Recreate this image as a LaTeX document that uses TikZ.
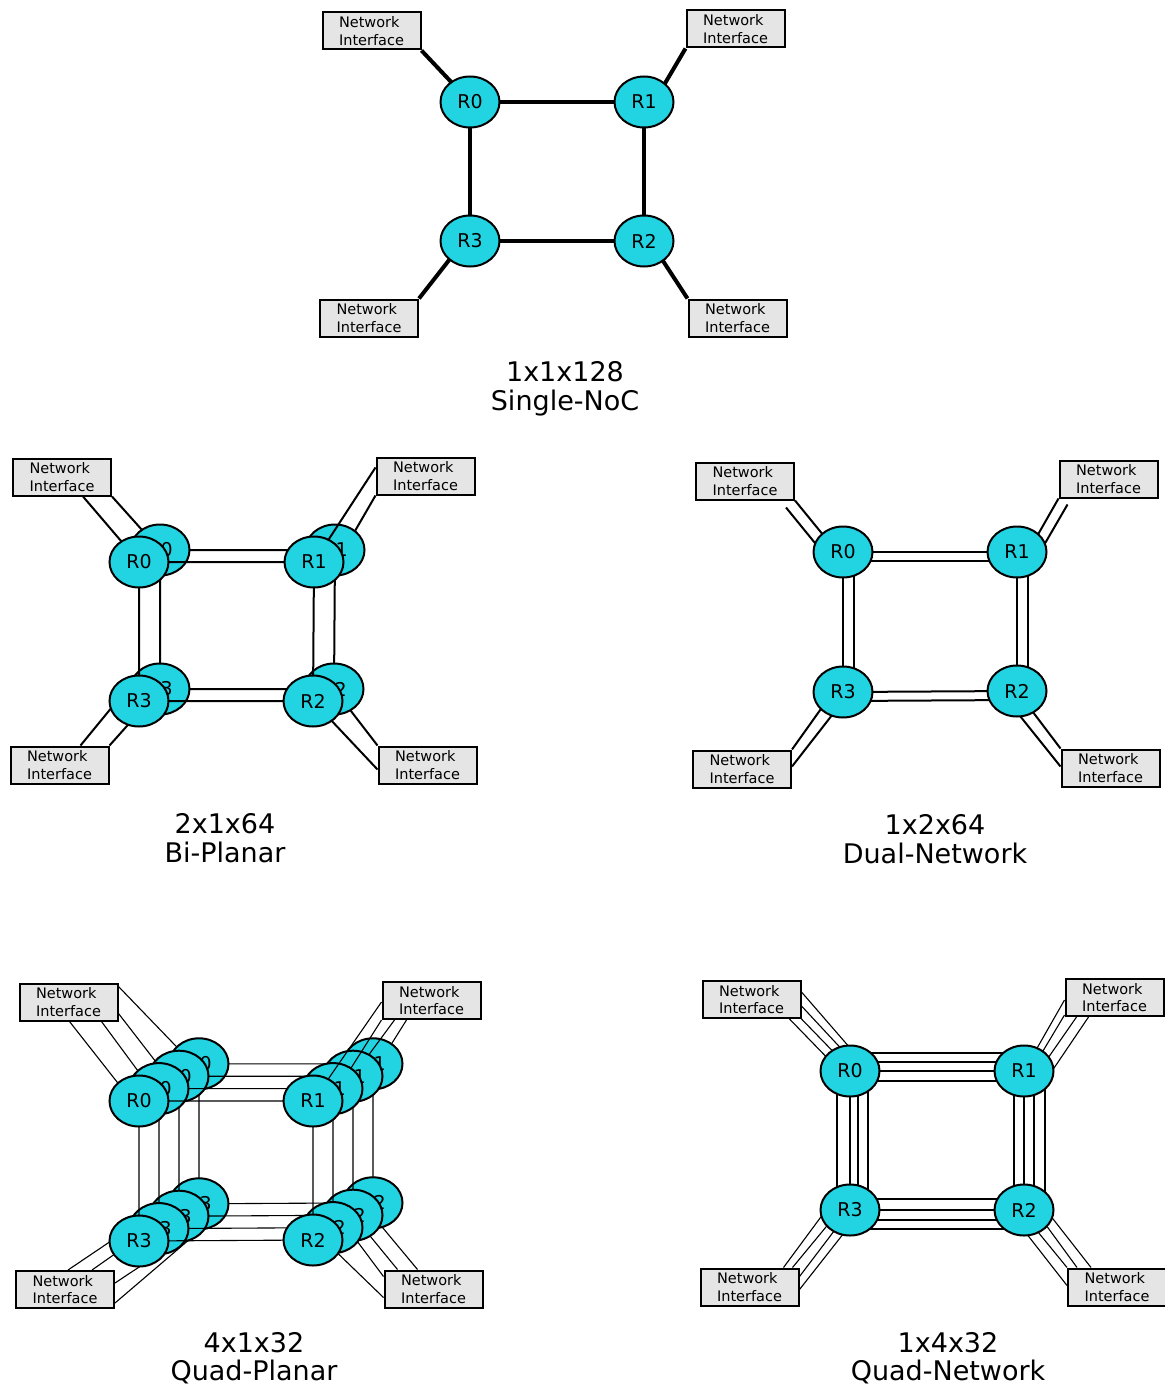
\documentclass[tikz,border=0pt]{standalone}
\usepackage{fontspec}
\setmainfont{DejaVu Sans}
\usetikzlibrary{shapes.geometric,calc}
\definecolor{Cyan}{HTML}{22D3E2}
\definecolor{GrayF}{HTML}{E5E5E5}
\pgfdeclarelayer{L3}\pgfdeclarelayer{N3}\pgfdeclarelayer{L2}\pgfdeclarelayer{N2}
\pgfdeclarelayer{L1}\pgfdeclarelayer{N1}\pgfdeclarelayer{L0}\pgfdeclarelayer{N0}
\pgfsetlayers{L3,N3,L2,N2,L1,N1,L0,N0,main}

\begin{document}
\begin{tikzpicture}[x=1pt,y=-1pt,
    router/.style={ellipse,draw,fill=Cyan,line width=2pt,minimum width=59pt,
      minimum height=51pt,inner sep=0pt,font=\fontsize{19}{21}\selectfont},
    nibox/.style={draw,fill=GrayF,line width=2pt,minimum width=98pt,
      minimum height=37pt,inner sep=0pt,align=left,font=\fontsize{14.5}{17.5}\selectfont},
    lbl/.style={align=center,font=\fontsize{27}{28.5}\selectfont},
    lk4/.style={line width=4pt},
    lk2/.style={line width=2pt},
    lk1/.style={line width=1.1pt}]
  \useasboundingbox (0,0) rectangle (1164,1388);

  % single NoC
  \node[router] (sR0) at (470,102) {R0};
  \node[router] (sR1) at (644,102) {R1};
  \node[router] (sR2) at (644,241) {R2};
  \node[router] (sR3) at (470,241) {R3};
  \node[nibox] (sNI0) at (371.5,31) {Network\\Interface};
  \node[nibox] (sNI1) at (735.5,29) {Network\\Interface};
  \node[nibox] (sNI2) at (737.5,318) {Network\\Interface};
  \node[nibox] (sNI3) at (369,318) {Network\\Interface};
  \begin{pgfonlayer}{L0}
    \draw[lk4] (sR0.center) -- (sR1.center) -- (sR2.center) -- (sR3.center) -- cycle;
    \draw[lk4] (sNI0.south east) -- (sR0.center);
    \draw[lk4] (sNI1.south west) -- ([shift={(10,0)}]sR1.center);
    \draw[lk4] (sNI2.north west) -- ([shift={(6,0)}]sR2.center);
    \draw[lk4] (sNI3.north east) -- ([shift={(-6,0)}]sR3.center);
  \end{pgfonlayer}
  \node[lbl] (sLbl) at (565,389) {1x1x128\\Single-NoC};

  % bi-planar
  \foreach \p in {1,0} {
    \begin{pgfonlayer}{N\p}
      \node[router] (bR0p\p) at ($(139,562)+\p*(21,-12)$) {R0};
      \node[router] (bR1p\p) at ($(314,562)+\p*(21,-12)$) {R1};
      \node[router] (bR2p\p) at ($(313,701)+\p*(21,-12)$) {R2};
      \node[router] (bR3p\p) at ($(139,701)+\p*(21,-12)$) {R3};
    \end{pgfonlayer}
    \begin{pgfonlayer}{L\p}
      \draw[lk2] (bR0p\p.center) -- (bR1p\p.center) -- (bR2p\p.center)
        -- (bR3p\p.center) -- cycle;
    \end{pgfonlayer}
  }
  \node[nibox] (bNI0) at (62,477) {Network\\Interface};
  \node[nibox] (bNI1) at (425.5,476) {Network\\Interface};
  \node[nibox] (bNI2) at (427.5,765) {Network\\Interface};
  \node[nibox] (bNI3) at (59.5,765) {Network\\Interface};
  \begin{pgfonlayer}{L0}
    \draw[lk2] ([shift={(-29,0)}]bNI0.south east) -- (bR0p0.center);
    \draw[lk2] ([shift={(0,11)}]bNI1.north west) -- (bR1p0.center);
    \draw[lk2] ([shift={(0,24)}]bNI2.north west) -- (bR2p0.center);
    \draw[lk2] ([shift={(-29,0)}]bNI3.north east) -- ([shift={(-22,0)}]bR3p0.center);
  \end{pgfonlayer}
  \begin{pgfonlayer}{L1}
    \draw[lk2] (bNI0.south east) -- (bR0p1.center);
    \draw[lk2] (bNI1.south west) -- ([shift={(9,0)}]bR1p1.center);
    \draw[lk2] (bNI2.north west) -- (bR2p1.center);
    \draw[lk2] (bNI3.north east) -- (bR3p1.center);
  \end{pgfonlayer}
  \node[lbl] (bLbl) at (225,838) {2x1x64\\Bi-Planar};

  % dual network
  \node[router] (dR0) at (843,552) {R0};
  \node[router] (dR1) at (1017,552) {R1};
  \node[router] (dR2) at (1017,691) {R2};
  \node[router] (dR3) at (843,692) {R3};
  \node[nibox] (dNI0) at (745,481) {Network\\Interface};
  \node[nibox] (dNI1) at (1108.5,479) {Network\\Interface};
  \node[nibox] (dNI2) at (1110.5,768) {Network\\Interface};
  \node[nibox] (dNI3) at (742,769) {Network\\Interface};
  \begin{pgfonlayer}{L0}
    \foreach \s in {0,9} {
      \draw[lk2] ([shift={(0,\s)}]dR0.center) -- ([shift={(0,\s)}]dR1.center);
      \draw[lk2] ([shift={(0,\s)}]dR3.center) -- ([shift={(0,\s)}]dR2.center);
    }
    \foreach \s in {0,11} {
      \draw[lk2] ([shift={(\s,0)}]dR0.center) -- ([shift={(\s,0)}]dR3.center);
      \draw[lk2] ([shift={(\s,0)}]dR1.center) -- ([shift={(\s,0)}]dR2.center);
    }
    \draw[lk2] (dNI0.south east) -- ([shift={(-6,0)}]dR0.center);
    \draw[lk2] ([shift={(-9,7)}]dNI0.south east) -- ([shift={(-15,7)}]dR0.center);
    \draw[lk2] (dNI1.south west) -- ([shift={(11,0)}]dR1.center);
    \draw[lk2] ([shift={(9,6)}]dNI1.south west) -- ([shift={(23,0)}]dR1.center);
    \draw[lk2] (dNI2.north west) -- (dR2.center);
    \draw[lk2] ([shift={(0,18)}]dNI2.north west) -- ([shift={(-17,0)}]dR2.center);
    \draw[lk2] (dNI3.north east) -- ([shift={(-10,0)}]dR3.center);
    \draw[lk2] ([shift={(0,17)}]dNI3.north east) -- ([shift={(7,0)}]dR3.center);
  \end{pgfonlayer}
  \node[lbl] (dLbl) at (935,839) {1x2x64\\Dual-Network};

  % quad-planar
  \foreach \p in {3,2,1,0} {
    \begin{pgfonlayer}{N\p}
      \node[router] (qR0p\p) at ($(139,1101)+\p*(20,-12.4)$) {R0};
      \node[router] (qR1p\p) at ($(313,1101)+\p*(20,-12.4)$) {R1};
      \node[router] (qR2p\p) at ($(313,1240)+\p*(20,-12.4)$) {R2};
      \node[router] (qR3p\p) at ($(139,1241)+\p*(20,-12.4)$) {R3};
    \end{pgfonlayer}
    \begin{pgfonlayer}{L\p}
      \draw[lk1] (qR0p\p.center) -- (qR1p\p.center) -- (qR2p\p.center)
        -- (qR3p\p.center) -- cycle;
    \end{pgfonlayer}
  }
  \node[nibox] (qNI0) at (68.5,1002) {Network\\Interface};
  \node[nibox] (qNI1) at (431.5,1000.5) {Network\\Interface};
  \node[nibox] (qNI2) at (433.5,1289) {Network\\Interface};
  \node[nibox] (qNI3) at (65,1289.5) {Network\\Interface};
  \begin{pgfonlayer}{L0}
    \draw[lk1] ([shift={(-49,0)}]qNI0.south east) -- ([shift={(-7,0)}]qR0p0.center);
    \draw[lk1] ([shift={(0,21)}]qNI1.north west) -- (qR1p0.center);
    \draw[lk1] ([shift={(0,28)}]qNI2.north west) -- ([shift={(11,0)}]qR2p0.center);
    \draw[lk1] ([shift={(-47,0)}]qNI3.north east) -- ([shift={(-28,0)}]qR3p0.center);
  \end{pgfonlayer}
  \begin{pgfonlayer}{L1}
    \draw[lk1] ([shift={(-17,0)}]qNI0.south east) -- ([shift={(-8,0)}]qR0p1.center);
    \draw[lk1] (qNI1.south west) -- ([shift={(5,0)}]qR1p1.center);
    \draw[lk1] ([shift={(0,7)}]qNI2.north west) -- ([shift={(14,0)}]qR2p1.center);
    \draw[lk1] ([shift={(-23,0)}]qNI3.north east) -- ([shift={(-8,0)}]qR3p1.center);
  \end{pgfonlayer}
  \begin{pgfonlayer}{L2}
    \draw[lk1] ([shift={(0,-8)}]qNI0.south east) -- ([shift={(-12,0)}]qR0p2.center);
    \draw[lk1] ([shift={(13,0)}]qNI1.south west) -- (qR1p2.center);
    \draw[lk1] ([shift={(14,0)}]qNI2.north west) -- (qR2p2.center);
    \draw[lk1] ([shift={(0,13)}]qNI3.north east) -- ([shift={(-10,31)}]qR3p2.center);
  \end{pgfonlayer}
  \begin{pgfonlayer}{L3}
    \draw[lk1] ([shift={(0,4)}]qNI0.north east) -- ([shift={(-6,0)}]qR0p3.center);
    \draw[lk1] ([shift={(25,0)}]qNI1.south west) -- ([shift={(6,0)}]qR1p3.center);
    \draw[lk1] ([shift={(34,0)}]qNI2.north west) -- ([shift={(-11,0)}]qR2p3.center);
    \draw[lk1] ([shift={(0,33)}]qNI3.north east) -- ([shift={(4,24)}]qR3p3.center);
  \end{pgfonlayer}
  \node[lbl] (qLbl) at (254,1358) {4x1x32\\Quad-Planar};

  % quad network
  \node[router] (eR0) at (850,1071) {R0};
  \node[router] (eR1) at (1024,1071) {R1};
  \node[router] (eR2) at (1024,1210) {R2};
  \node[router] (eR3) at (850,1210) {R3};
  \node[nibox] (eNI0) at (751.5,999.5) {Network\\Interface};
  \node[nibox] (eNI1) at (1114.5,997.5) {Network\\Interface};
  \node[nibox] (eNI2) at (1117,1287) {Network\\Interface};
  \node[nibox] (eNI3) at (749.5,1287) {Network\\Interface};
  \begin{pgfonlayer}{L0}
    \foreach \s in {-18,-9,0,10}
      \draw[lk1] ([shift={(0,\s)}]eR0.center) -- ([shift={(0,\s)}]eR1.center);
    \foreach \s in {-11,0,10,19}
      \draw[lk1] ([shift={(0,\s)}]eR3.center) -- ([shift={(0,\s)}]eR2.center);
    \foreach \s in {-13,0,8,18}
      \draw[lk1] ([shift={(\s,0)}]eR0.center) -- ([shift={(\s,0)}]eR3.center);
    \foreach \s in {-10,0,10,21}
      \draw[lk1] ([shift={(\s,0)}]eR1.center) -- ([shift={(\s,0)}]eR2.center);
    \foreach \a/\t in {{0,12}/20,{0,26}/12,{0,39}/2,{-12,39}/-10}
      \draw[lk1] ([shift={(\a)}]eNI0.north east) -- ([shift={(\t,0)}]eR0.center);
    \foreach \a/\t in {{0,22}/0,{0,37}/7,{12,39}/15,{24,39}/28}
      \draw[lk1] ([shift={(\a)}]eNI1.north west) -- ([shift={(\t,0)}]eR1.center);
    \foreach \a/\t in {{24,0}/22,{10,0}/11,{0,0}/-4,{0,18}/-16}
      \draw[lk1] ([shift={(\a)}]eNI2.north west) -- ([shift={(\t,0)}]eR2.center);
    \foreach \a/\t in {{-16,0}/-24,{-7,0}/-10,{0,9}/0,{0,22}/12}
      \draw[lk1] ([shift={(\a)}]eNI3.north east) -- ([shift={(\t,0)}]eR3.center);
  \end{pgfonlayer}
  \node[lbl] (eLbl) at (948,1358) {1x4x32\\Quad-Network};
\end{tikzpicture}
\end{document}
